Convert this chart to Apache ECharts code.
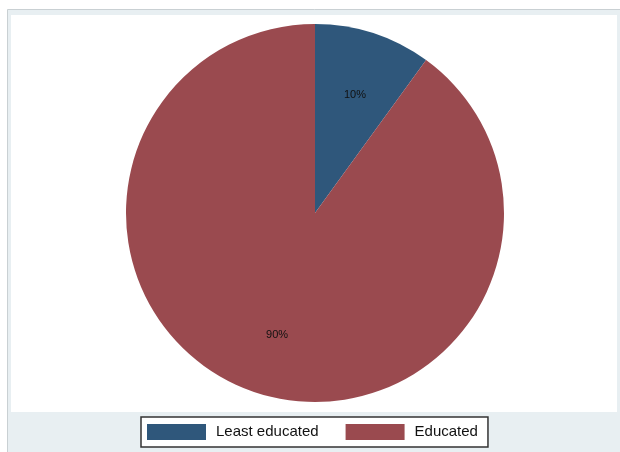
<!DOCTYPE html>
<html>
<head>
<meta charset="utf-8">
<script src="https://cdn.jsdelivr.net/npm/echarts@6/dist/echarts.min.js"></script>
<style>html,body{margin:0;padding:0;background:#fff;}#c{width:620px;height:452px;}</style>
</head>
<body>
<div id="c"></div>
<script>
const categories = ['Least educated', 'Educated'];
const shares = [10, 90];
const sliceColors = ['#2f577b', '#9a4a4f'];

const chart = echarts.init(document.getElementById('c'), null, {renderer: 'canvas'});
const pieData = categories.map((name, i) => ({name, value: shares[i], itemStyle: {color: sliceColors[i]}}));
const labelData = categories.map((name, i) => ({name, value: shares[i]}));

chart.setOption({
  animation: false,
  backgroundColor: '#ffffff',
  graphic: [
    {type: 'rect', z: -10, shape: {x: 7.5, y: 9.5, width: 620, height: 450},
     style: {fill: '#e8eff2', stroke: '#c9d0d3', lineWidth: 1}},
    {type: 'rect', z: -9, shape: {x: 11, y: 15, width: 606, height: 397},
     style: {fill: '#ffffff'}}
  ],
  legend: {
    data: categories,
    left: 141,
    top: 417,
    icon: 'rect',
    itemWidth: 59,
    itemHeight: 16,
    itemGap: 27,
    padding: [7, 10, 7, 6],
    borderColor: '#333333',
    borderWidth: 1.5,
    backgroundColor: '#ffffff',
    selectedMode: false,
    textStyle: {fontFamily: 'Liberation Sans, Arial, sans-serif', fontSize: 15, color: '#111', padding: [0, 0, 0, 5]}
  },
  series: [
    {
      type: 'pie',
      center: [315, 213],
      radius: [0, 189],
      startAngle: 90,
      clockwise: true,
      data: pieData,
      label: {show: false},
      labelLine: {show: false},
      itemStyle: {borderWidth: 0},
      emphasis: {disabled: true},
      silent: true
    },
    {
      type: 'pie',
      center: [315, 213],
      radius: [0, 246],
      startAngle: 90,
      clockwise: true,
      data: labelData,
      itemStyle: {color: 'rgba(0,0,0,0)', borderWidth: 0},
      label: {show: true, position: 'inside', formatter: '{c}%', color: '#111',
              fontFamily: 'Liberation Sans, Arial, sans-serif', fontSize: 11, offset: [1, 2]},
      labelLine: {show: false},
      emphasis: {disabled: true},
      silent: true,
      legendHoverLink: false
    }
  ]
});
</script>
</body>
</html>
